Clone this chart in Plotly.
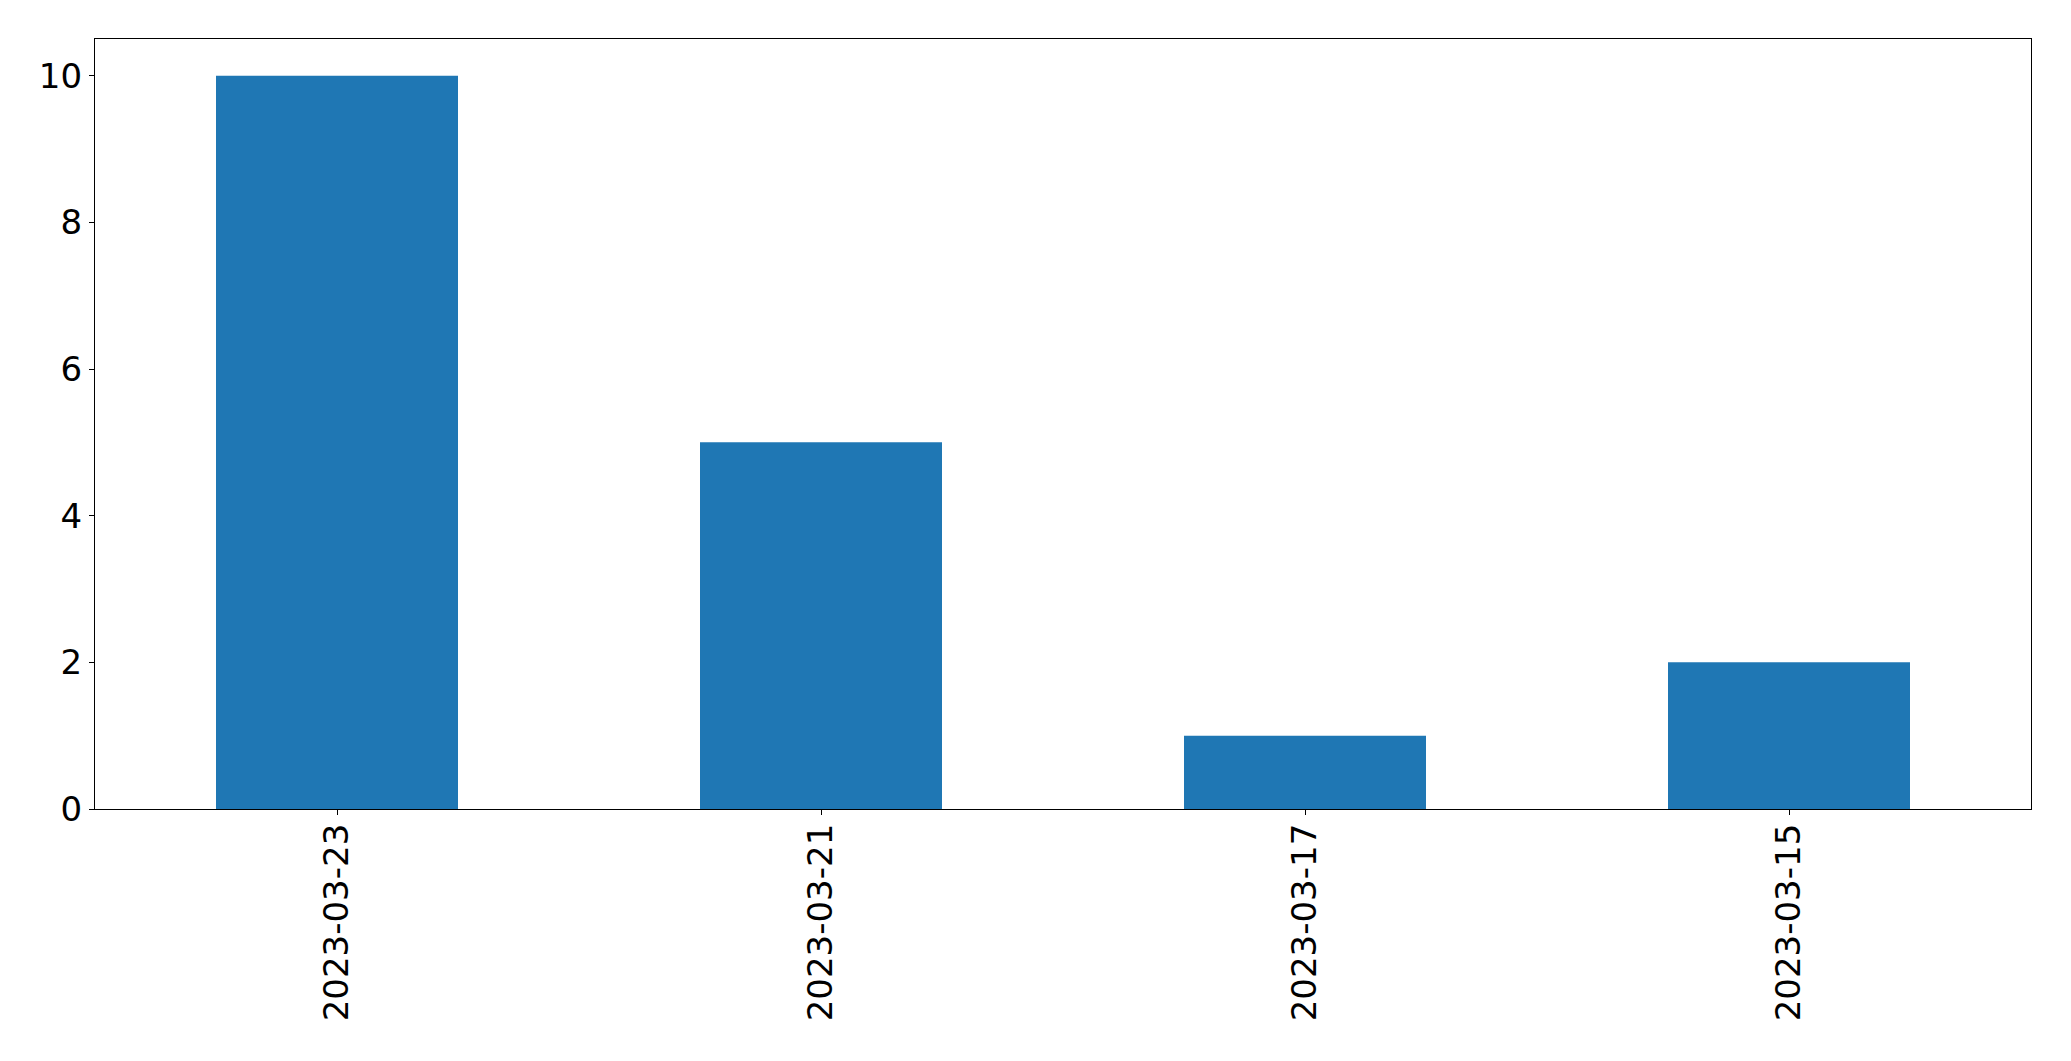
import plotly.graph_objects as go

dates = ["2023-03-23", "2023-03-21", "2023-03-17", "2023-03-15"]
counts = [10, 5, 1, 2]
y_ticks = [0, 2, 4, 6, 8, 10]

fig = go.Figure()
fig.add_trace(go.Bar(
    x=dates, y=counts, width=0.5,
    marker=dict(color="#1f77b4", line=dict(width=0)),
))

font = dict(family="DejaVu Sans", size=34, color="black")
fig.update_layout(
    width=2071, height=1061,
    margin=dict(l=95, r=40, t=39, b=252, autoexpand=False),
    plot_bgcolor="white", paper_bgcolor="white",
    showlegend=False,
    font=font,
)
fig.update_xaxes(
    type="category", range=[-0.5, 3.5], automargin=False,
    showline=True, linecolor="black", linewidth=1.3, mirror=True,
    ticks="outside", ticklen=5, tickwidth=1.3, tickcolor="black",
    tickangle=-90, tickfont=font, showgrid=False, zeroline=False,
    ticklabelstandoff=-5,
)
fig.update_yaxes(
    range=[0, 10.5], tickvals=y_ticks, automargin=False,
    showline=True, linecolor="black", linewidth=1.3, mirror=True,
    ticks="outside", ticklen=5, tickwidth=1.3, tickcolor="black",
    tickfont=font, showgrid=False, zeroline=False,
    ticklabelstandoff=0,
)
fig.write_html(
    "out.html",
    config={"displayModeBar": False},
    post_script="document.body.style.margin='0';document.body.style.overflow='hidden';",
)
